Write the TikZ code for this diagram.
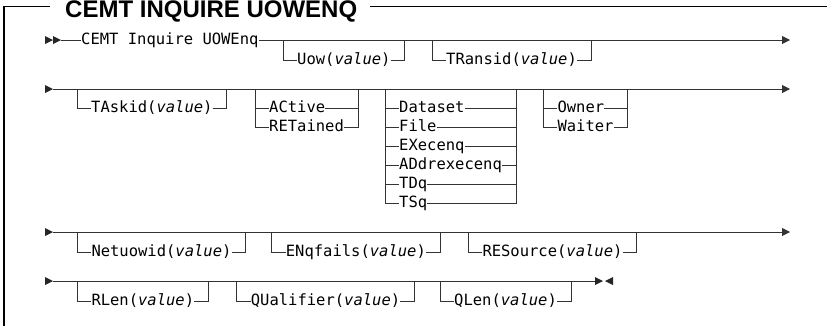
\documentclass[tikz,border=0pt]{standalone}
\usepackage{fontspec}
\setmainfont{Liberation Sans}
\newfontfamily\synfont[ItalicFont={DejaVu Sans Mono Oblique}]{DejaVu Sans Mono}
\usetikzlibrary{arrows.meta}
\tikzset{
  rail/.style={line width=1pt, draw=black!80},
  frameline/.style={line width=1.5pt, draw=black},
  lbl/.style={font=\synfont\fontsize{15.5}{15.5}\selectfont, inner xsep=0pt, inner ysep=0pt,
              text height=10.4pt, text depth=2pt, anchor=west, text=black},
  endtip/.style={-{Triangle[length=8pt,width=8pt]}},
  starttri/.style={fill=black!85},
}
\newcommand\val{\textit{value}}
% optional branch: name, bracket-left x, main y, branch y, text
\newcommand\optb[5]{%
  \node[lbl] (#1) at (#2+14,#4) {#5};
  \coordinate (#1-a) at (#2,#3);
  \path (#1.east) ++(14,0) coordinate (#1-x);
  \draw[rail] (#1-a) |- (#1.west);
  \draw[rail] (#1.east) -| (#1-x |- #1-a);
}
\begin{document}
\begin{tikzpicture}[x=1pt,y=-1pt]
\useasboundingbox (0,0) rectangle (827,325);
% frame and title
\node[font=\bfseries\fontsize{24}{24}\selectfont, anchor=base west, inner sep=0pt] (title) at (65,17.5) {CEMT INQUIRE UOWENQ};
\draw[frameline] (50,6.5) -- (4,6.5) -- (4,330);
\draw[frameline] (370,6.5) -- (830,6.5);

% ---------- row 1 ----------
\fill[starttri] (45,36) -- (53,40) -- (45,44) -- cycle;
\fill[starttri] (53,36) -- (61,40) -- (53,44) -- cycle;
\coordinate (s1) at (61,40);
\node[lbl] (cmd) at (81,40) {CEMT Inquire UOWEnq};
\coordinate (e1) at (790,40);
\draw[rail] (s1) -- (cmd.west);
\draw[rail,endtip] (cmd.east) -- (e1);
\optb{uow}{283}{40}{60}{Uow(\val)}
\optb{transid}{432}{40}{60}{TRansid(\val)}

% ---------- row 2 ----------
\fill[starttri] (45,85) -- (53,89) -- (45,93) -- cycle;
\coordinate (s2) at (53,89);
\coordinate (e2) at (790,89);
\draw[rail,endtip] (s2) -- (e2);
\optb{taskid}{77}{89}{108}{TAskid(\val)}
% ACtive / RETained
\node[lbl] (active) at (269,108) {ACtive};
\node[lbl] (retained) at (269,127) {RETained};
\coordinate (ga-l) at (255,89);
\path (retained.east) ++(14,0) coordinate (ga-x);
\coordinate (ga-r) at (ga-x |- ga-l);
\draw[rail] (ga-l) |- (retained.west);
\draw[rail] (ga-l |- active.west) -- (active.west);
\draw[rail] (ga-r) |- (retained.east);
\draw[rail] (active.east) -- (ga-r |- active.west);
% resource types
\node[lbl] (dataset) at (399,108) {Dataset};
\node[lbl] (file) at (399,127) {File};
\node[lbl] (execenq) at (399,146) {EXecenq};
\node[lbl] (addr) at (399,165) {ADdrexecenq};
\node[lbl] (tdq) at (399,184) {TDq};
\node[lbl] (tsq) at (399,203) {TSq};
\coordinate (gb-l) at (385,89);
\path (addr.east) ++(14,0) coordinate (gb-x);
\coordinate (gb-r) at (gb-x |- gb-l);
\draw[rail] (gb-l) |- (tsq.west);
\draw[rail] (gb-r) |- (tsq.east);
\foreach \n in {dataset,file,execenq,addr,tdq}{
  \draw[rail] (gb-l |- \n.west) -- (\n.west);
  \draw[rail] (\n.east) -- (gb-r |- \n.west);
}
% Owner / Waiter
\node[lbl] (owner) at (557.3,108) {Owner};
\node[lbl] (waiter) at (557.3,127) {Waiter};
\coordinate (gc-l) at (543.3,89);
\path (waiter.east) ++(14,0) coordinate (gc-x);
\coordinate (gc-r) at (gc-x |- gc-l);
\draw[rail] (gc-l) |- (waiter.west);
\draw[rail] (gc-l |- owner.west) -- (owner.west);
\draw[rail] (gc-r) |- (waiter.east);
\draw[rail] (owner.east) -- (gc-r |- owner.west);

% ---------- row 3 ----------
\fill[starttri] (45,228) -- (53,232) -- (45,236) -- cycle;
\coordinate (s3) at (53,232);
\coordinate (e3) at (790,232);
\draw[rail,endtip] (s3) -- (e3);
\optb{netuowid}{77.3}{232}{252}{Netuowid(\val)}
\optb{enqfails}{271.7}{232}{252}{ENqfails(\val)}
\optb{resource}{468.3}{232}{252}{RESource(\val)}

% ---------- row 4 ----------
\fill[starttri] (45,277) -- (53,281) -- (45,285) -- cycle;
\coordinate (s4) at (53,281);
\coordinate (e4) at (595,281);
\draw[rail] (s4) -- (e4);
\optb{rlen}{77.3}{281}{301}{RLen(\val)}
\optb{qualifier}{236.7}{281}{301}{QUalifier(\val)}
\optb{qlen}{440}{281}{301}{QLen(\val)}
\fill[starttri] (595,277) -- (603,281) -- (595,285) -- cycle;
\fill[starttri] (613,277) -- (605,281) -- (613,285) -- cycle;
\end{tikzpicture}
\end{document}
